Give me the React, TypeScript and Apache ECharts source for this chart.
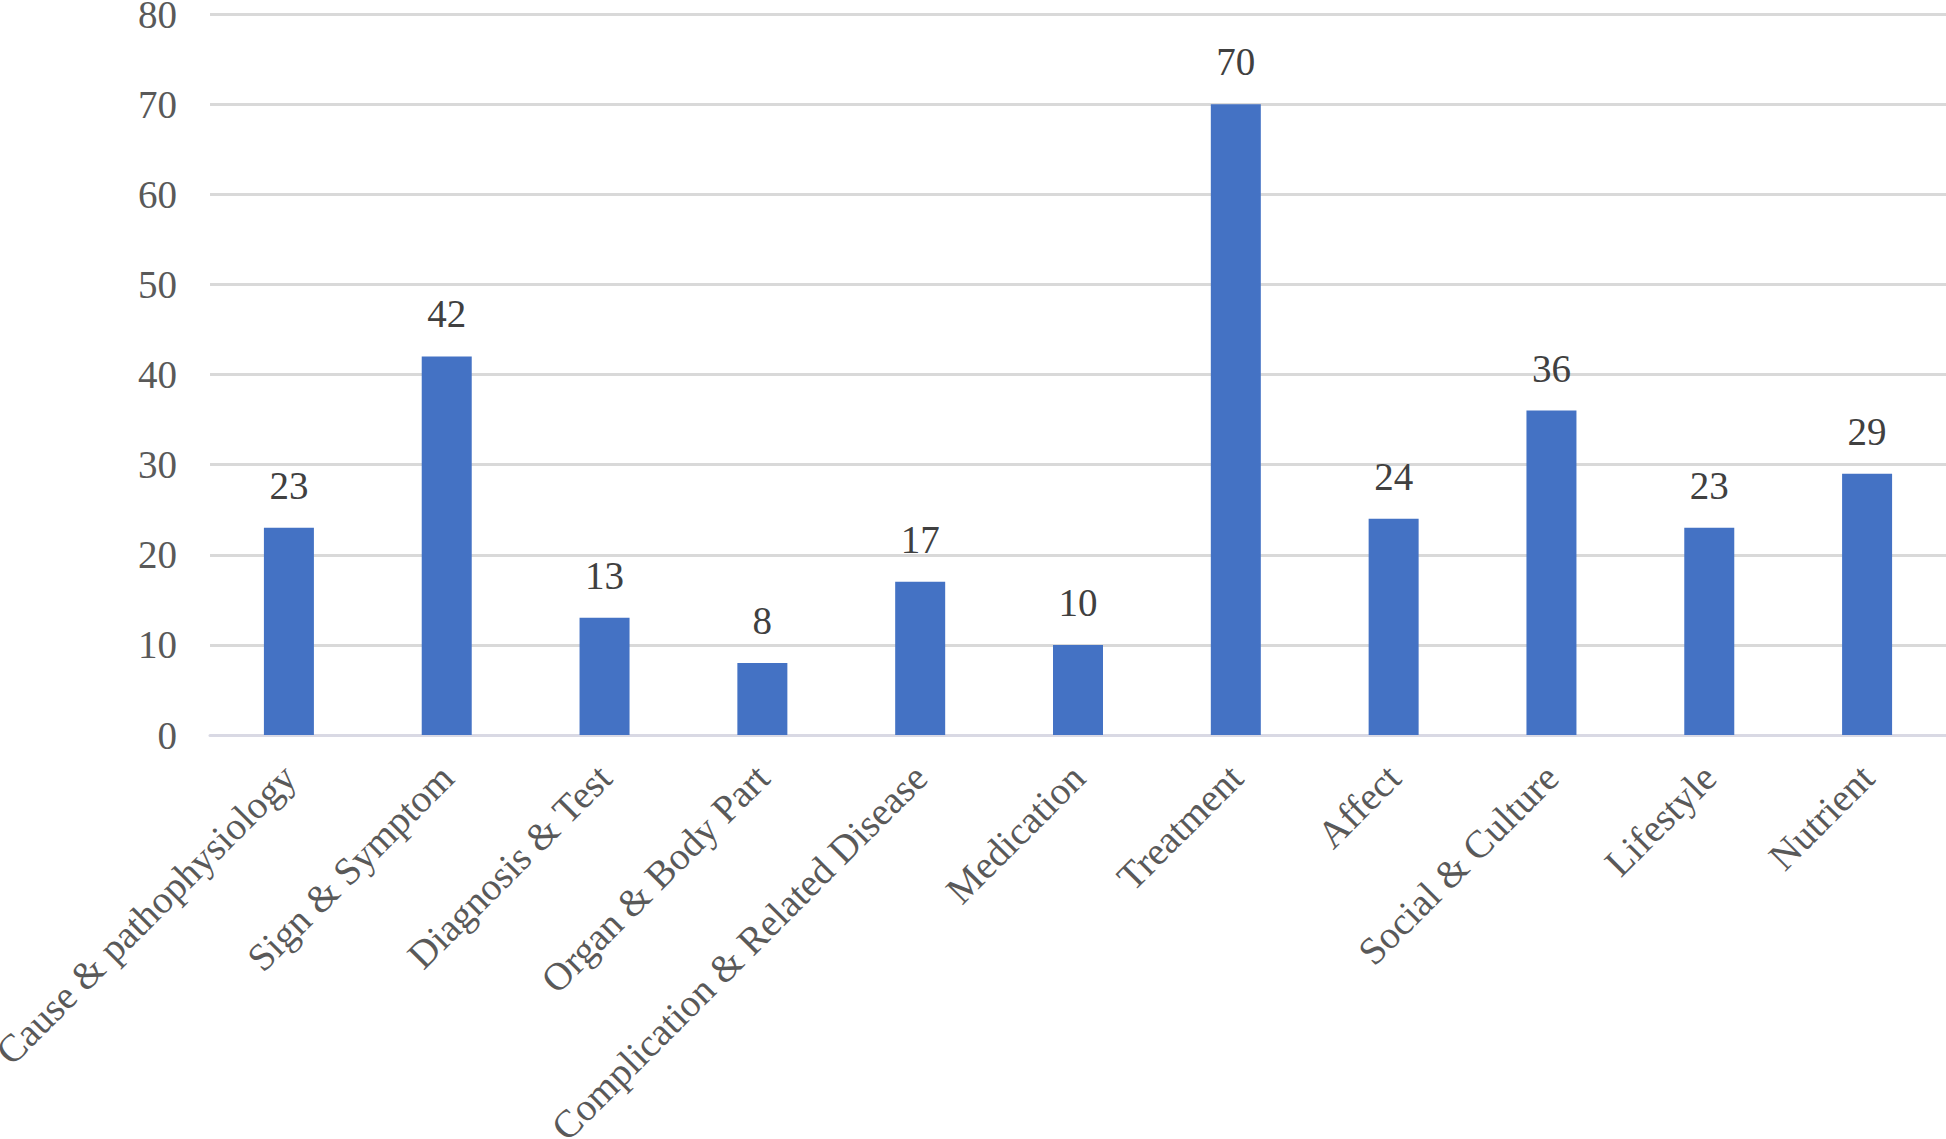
import React, { useEffect, useRef } from "react";
import * as echarts from "echarts";

const categories = [
  "Cause & pathophysiology",
  "Sign & Symptom",
  "Diagnosis & Test",
  "Organ & Body Part",
  "Complication & Related Disease",
  "Medication",
  "Treatment",
  "Affect",
  "Social & Culture",
  "Lifestyle",
  "Nutrient",
];
const counts = [23, 42, 13, 8, 17, 10, 70, 24, 36, 23, 29];
const yMin = 0;
const yMax = 80;
const yInterval = 10;

const FONT = "'Liberation Serif', 'Times New Roman', serif";

export default function App() {
  const ref = useRef<HTMLDivElement>(null);
  useEffect(() => {
    document.body.style.margin = "0";
    if (!ref.current) return;
    const chart = echarts.init(ref.current, null, { renderer: "svg" });
    chart.setOption({
      animation: false,
      backgroundColor: "#ffffff",
      grid: {
        left: 210,
        right: 0,
        top: 14,
        bottom: 404,
        containLabel: false,
        outerBoundsMode: "none",
      },
      xAxis: {
        type: "category",
        data: categories,
        axisLine: { show: true, lineStyle: { color: "#d9d9e4", width: 3 } },
        axisTick: { show: false },
        axisLabel: {
          rotate: 45,
          interval: 0,
          margin: 36,
          color: "#595959",
          fontFamily: FONT,
          fontSize: 39,
        },
      },
      yAxis: {
        type: "value",
        min: yMin,
        max: yMax,
        interval: yInterval,
        axisLine: { show: false },
        axisTick: { show: false },
        splitLine: { show: true, lineStyle: { color: "#d9d9d9", width: 3 } },
        axisLabel: {
          margin: 33,
          color: "#595959",
          fontFamily: FONT,
          fontSize: 39,
        },
      },
      series: [
        {
          type: "bar",
          data: counts,
          barWidth: 50,
          itemStyle: { color: "#4472C4" },
          label: {
            show: true,
            position: "top",
            distance: 23,
            color: "#404040",
            fontFamily: FONT,
            fontSize: 39,
          },
        },
      ],
    });
    return () => chart.dispose();
  }, []);
  return <div ref={ref} style={{ width: 1946, height: 1139 }} />;
}
